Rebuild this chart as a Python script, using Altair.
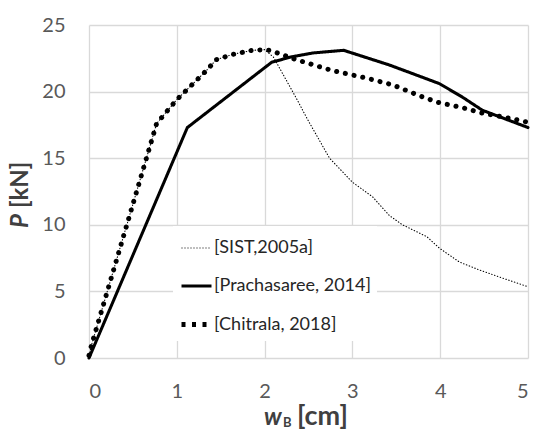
import altair as alt
import pandas as pd

series_names = ["[SIST,2005a]", "[Prachasaree, 2014]", "[Chitrala, 2018]"]

sist_x = [0, 0.03, 0.77, 1.0, 1.34, 1.45, 1.64, 1.86, 2.0, 2.1, 2.37, 2.49, 2.74, 3.0, 3.23, 3.42, 3.57, 3.85, 3.99, 4.22, 4.45, 4.71, 5.0]
sist_y = [0.2, 1.0, 17.6, 19.4, 21.6, 22.4, 22.8, 23.1, 23.15, 22.6, 19.4, 17.9, 15.0, 13.2, 12.1, 10.7, 10.0, 9.1, 8.25, 7.2, 6.6, 6.0, 5.35]

prach_x = [0, 1.12, 2.08, 2.3, 2.55, 2.9, 3.42, 3.99, 4.25, 4.48, 5.0]
prach_y = [0, 17.3, 22.2, 22.6, 22.9, 23.1, 22.0, 20.6, 19.6, 18.6, 17.3]

chit_x = [0, 0.03, 0.77, 1.0, 1.34, 1.45, 1.64, 1.86, 2.0, 2.06, 2.36, 2.76, 3.17, 3.46, 3.76, 3.97, 4.25, 4.47, 4.79, 5.0]
chit_y = [0.2, 1.0, 17.6, 19.4, 21.6, 22.4, 22.8, 23.1, 23.15, 23.1, 22.4, 21.6, 21.0, 20.5, 19.7, 19.2, 18.8, 18.4, 18.0, 17.7]

x_ticks = [0, 1, 2, 3, 4, 5]
y_ticks = [0, 5, 10, 15, 20, 25]

rows = []
for name, xs, ys in zip(series_names, [sist_x, prach_x, chit_x], [sist_y, prach_y, chit_y]):
    for i, (a, b) in enumerate(zip(xs, ys)):
        rows.append({"series": name, "w": a, "P": b, "order": i})
df = pd.DataFrame(rows)

FONT = "Lato"
GRID = "#d9d9d9"

x_enc = alt.X("w:Q", scale=alt.Scale(domain=[0, 5], nice=False),
              axis=alt.Axis(values=x_ticks, title=None, labelFontSize=20, labelColor="#595959",
                            labelFont=FONT, labelPadding=23, ticks=False, domain=False,
                            grid=True, gridColor=GRID, gridWidth=1.3))
y_enc = alt.Y("P:Q", scale=alt.Scale(domain=[0, 25], nice=False),
              axis=alt.Axis(values=y_ticks, title=None, labelFontSize=20, labelColor="#595959",
                            labelFont=FONT, labelPadding=24, ticks=False, domain=False,
                            grid=True, gridColor=GRID, gridWidth=1.3))

# visible curves
lines = alt.Chart(df).mark_line(color="black", strokeCap="round", strokeJoin="round").encode(
    x=x_enc,
    y=y_enc,
    detail="series:N",
    order="order:Q",
    strokeDash=alt.StrokeDash("series:N",
        scale=alt.Scale(domain=series_names, range=[[0.5, 2.5], [1, 0], [0.1, 8.8]]),
        legend=None),
    strokeWidth=alt.StrokeWidth("series:N",
        scale=alt.Scale(domain=series_names, range=[1.1, 5, 5]),
        legend=None),
)

leg = dict(title=None, orient="none", legendX=84, legendY=201,
           fillColor="white", padding=6, rowPadding=12,
           labelFont=FONT, labelFontSize=18, labelColor="#262626",
           labelOffset=0, symbolType="stroke", symbolSize=900,
           symbolStrokeColor="black", symbolOpacity=1)

# legend-only layer (same data, invisible), with dash patterns suited to legend symbols
legend_lines = alt.Chart(df).mark_line(color="black", opacity=0).encode(
    x=x_enc,
    y=y_enc,
    detail="series:N",
    order="order:Q",
    strokeDash=alt.StrokeDash("series:N",
        scale=alt.Scale(domain=series_names, range=[[1, 2], [1, 0], [4, 6.5]]),
        legend=alt.Legend(**leg)),
    strokeWidth=alt.StrokeWidth("series:N",
        scale=alt.Scale(domain=series_names, range=[1.1, 5, 4.5]),
        legend=alt.Legend(**leg)),
)

TITLE_COLOR = "#404040"
title_df = pd.DataFrame({"t": [0]})
base = alt.Chart(title_df)
x_w = base.mark_text(text="w", font=FONT, fontSize=24, fontWeight="bold", fontStyle="italic",
                     color=TITLE_COLOR, align="left", baseline="alphabetic").encode(
    x=alt.value(175), y=alt.value(400))
x_b = base.mark_text(text="B", font=FONT, fontSize=13, fontWeight="bold",
                     color=TITLE_COLOR, align="left", baseline="alphabetic").encode(
    x=alt.value(194), y=alt.value(402))
x_cm = base.mark_text(text="[cm]", font=FONT, fontSize=27, fontWeight="bold",
                      color=TITLE_COLOR, align="left", baseline="alphabetic").encode(
    x=alt.value(208), y=alt.value(400))
y_p = base.mark_text(text="P", font=FONT, fontSize=24, fontWeight="bold", fontStyle="italic",
                     color=TITLE_COLOR, align="left", baseline="middle", angle=270).encode(
    x=alt.value(-68), y=alt.value(203))
y_kn = base.mark_text(text="[kN]", font=FONT, fontSize=24, fontWeight="bold",
                      color=TITLE_COLOR, align="left", baseline="middle", angle=270).encode(
    x=alt.value(-68), y=alt.value(183))

chart = alt.layer(lines, legend_lines, x_w, x_b, x_cm, y_p, y_kn).resolve_scale(
    strokeDash="independent", strokeWidth="independent"
).properties(
    width=439, height=333,
    autosize=alt.AutoSizeParams(type="none"),
    padding={"left": 89, "top": 25, "right": 7, "bottom": 75},
    background="white",
).configure_view(stroke=None)

chart.save("out.html", embed_options={"renderer": "svg", "actions": False})
